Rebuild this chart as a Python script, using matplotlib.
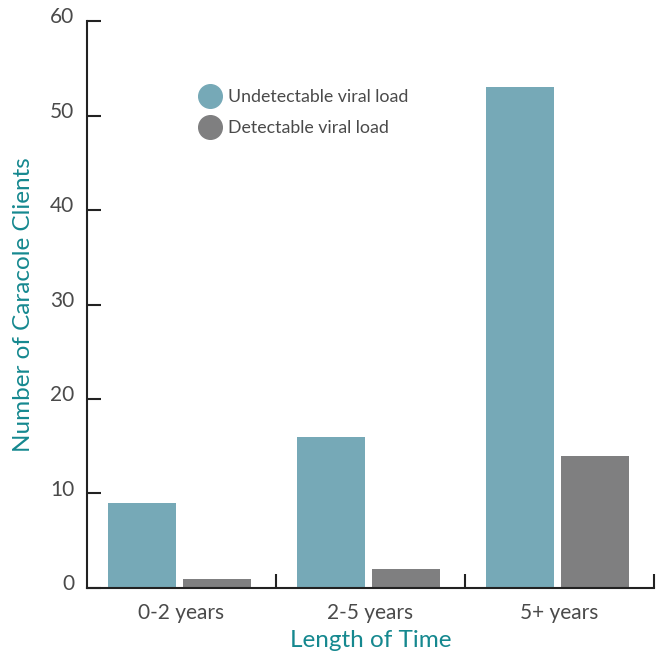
import matplotlib
matplotlib.use("Agg")
import matplotlib.pyplot as plt
import matplotlib.transforms as mtransforms
from matplotlib.lines import Line2D
import numpy as np

categories = ["0-2 years", "2-5 years", "5+ years"]
undetectable = [9, 16, 53]
detectable = [1, 2, 14]
series_names = ["Undetectable viral load", "Detectable viral load"]
y_ticks = [0, 10, 20, 30, 40, 50, 60]

c_und = "#76A9B7"
c_det = "#7F7F80"
c_text = "#4A4A4A"
c_teal = "#15888F"

plt.rcParams['font.family'] = ['Lato', 'DejaVu Sans']

fig = plt.figure(figsize=(6.56, 6.51), dpi=100)
ax = fig.add_axes([0.1326, 0.0968, 0.8644, 0.8709])

x = np.arange(len(categories))
w = 0.36
ax.bar(x - 0.209, undetectable, width=w, color=c_und, zorder=2)
ax.bar(x + 0.188, detectable, width=w, color=c_det, zorder=2)

ax.set_xlim(-0.5, 2.5)
ax.set_ylim(0, 60)

for s in ["top", "right"]:
    ax.spines[s].set_visible(False)
for s in ["left", "bottom"]:
    ax.spines[s].set_color("#222222")
    ax.spines[s].set_linewidth(1.5)

ax.set_yticks(y_ticks)
ax.set_yticklabels([str(v) for v in y_ticks])
ax.tick_params(axis="y", direction="in", length=10, width=1.5, color="#222222",
               labelsize=15, labelcolor=c_text, pad=9)
offset = mtransforms.ScaledTranslation(0, 4/72, fig.dpi_scale_trans)
for lab in ax.get_yticklabels():
    lab.set_transform(lab.get_transform() + offset)

ax.set_xticks([0.5, 1.5, 2.5], minor=False)
ax.set_xticklabels([])
ax.tick_params(axis="x", which="major", direction="in", length=10, width=1.5, color="#222222")
ax.set_xticks(x, minor=True)
ax.set_xticklabels(categories, minor=True)
ax.tick_params(axis="x", which="minor", length=0, labelsize=15, labelcolor=c_text, pad=11)

ax.set_ylabel("Number of Caracole Clients", fontsize=17.5, color=c_teal, labelpad=12)
ax.set_xlabel("Length of Time", fontsize=17.5, color=c_teal, labelpad=5)

handles = [Line2D([], [], linestyle="none", marker="o", markersize=17, color=c_und),
           Line2D([], [], linestyle="none", marker="o", markersize=17, color=c_det)]
leg = ax.legend(handles, series_names, loc="upper left", bbox_to_anchor=(0.183, 0.893),
                frameon=False, labelcolor=c_text, handletextpad=0.3,
                labelspacing=0.85, handlelength=1.4, borderaxespad=0,
                prop={"size": 12.8})

fig.savefig("out.png", dpi=100)
